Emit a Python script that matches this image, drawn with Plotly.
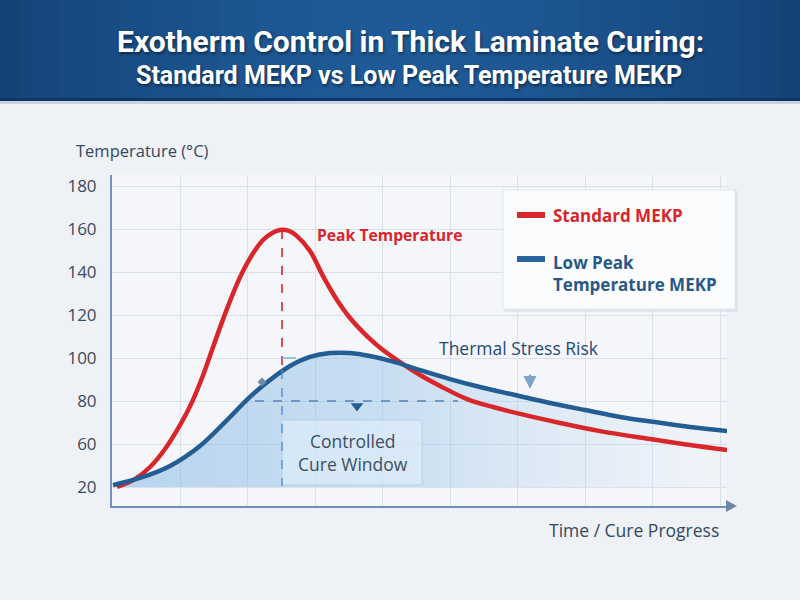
import plotly.graph_objects as go

# ---------------- data ----------------
time_std = [0.067, 0.333, 0.556, 0.778, 1.000, 1.178, 1.326, 1.474, 1.622, 1.770, 1.919, 2.067, 2.244,
            2.481, 2.615, 2.733, 2.926, 3.119, 3.326, 3.519, 3.770, 4.007, 4.259, 4.556, 4.852, 5.252,
            5.637, 6.037, 6.630, 7.222, 7.963, 8.556, 9.104]
temp_std = [40.0, 43.7, 49.3, 57.7, 68.8, 79.5, 90.7, 103.7, 116.7, 128.8, 139.5, 147.9, 155.3,
            159.5, 159.1, 156.7, 149.8, 138.1, 127.0, 118.6, 110.2, 103.7, 98.1, 92.1, 87.0, 80.9,
            77.2, 74.0, 69.8, 66.0, 62.3, 59.5, 57.2]

time_low = [0.007, 0.407, 0.852, 1.296, 1.667, 2.037, 2.333, 2.630, 2.926, 3.222, 3.519, 3.815, 4.185,
            4.556, 5.000, 5.444, 5.963, 6.481, 7.000, 7.519, 8.037, 8.556, 9.104]
temp_low = [40.9, 44.2, 49.8, 59.1, 70.2, 81.9, 89.8, 96.3, 100.5, 102.3, 102.3, 100.9, 98.1,
            94.4, 90.2, 86.5, 82.8, 79.1, 75.8, 72.6, 70.2, 67.9, 66.0]

y_tickvals = [40, 60, 80, 100, 120, 140, 160, 180]
y_ticktext = ["20", "60", "80", "100", "120", "140", "160", "180"]

series_names = ["Standard MEKP", "Low Peak<br>Temperature MEKP"]

RED = "#d8262b"
BLUE = "#235d93"
FONT = "Open Sans, Noto Sans, sans-serif"
TFONT = "Roboto, sans-serif"

# pixel helpers (plot area: x 112..727, y 175..506)
L, R, T, B = 112, 727, 175, 506
def px(xp):  # pixel -> paper x
    return (xp - L) / (R - L)
def py(yp):  # pixel -> paper y
    return (B - yp) / (B - T)
def dx(xp):  # pixel -> data x
    return (xp - 112.5) / 67.5
def dy(yp):  # pixel -> data y
    return 80 + (401 - yp) / 2.15

fig = go.Figure()

# baseline for fill
fig.add_trace(go.Scatter(x=time_low, y=[40] * len(time_low), mode="lines",
                         line=dict(width=0), showlegend=False, hoverinfo="skip"))
fig.add_trace(go.Scatter(x=time_low, y=temp_low, mode="lines", line=dict(width=0, shape="spline", smoothing=1.0),
                         fill="tonexty",
                         fillgradient=dict(type="horizontal",
                                           colorscale=[[0, "rgba(110,170,225,0.45)"],
                                                       [0.45, "rgba(120,178,228,0.35)"],
                                                       [1, "rgba(160,200,235,0.04)"]]),
                         showlegend=False, hoverinfo="skip"))

fig.add_trace(go.Scatter(x=time_std, y=temp_std, mode="lines", name=series_names[0],
                         line=dict(color=RED, width=4.5, shape="spline", smoothing=1.0),
                         showlegend=False))
fig.add_trace(go.Scatter(x=time_low, y=temp_low, mode="lines", name=series_names[1],
                         line=dict(color=BLUE, width=4.5, shape="spline", smoothing=1.0),
                         showlegend=False))

shapes = []
# title banner gradient
N = 40
for i in range(N):
    t = abs((i + 0.5) / N - 0.5) * 2
    r0, g0, b0 = 0x1f, 0x5b, 0x98
    r1, g1, b1 = 0x15, 0x42, 0x78
    k = t ** 1.5
    c = "rgb(%d,%d,%d)" % (r0 + (r1 - r0) * k, g0 + (g1 - g0) * k, b0 + (b1 - b0) * k)
    shapes.append(dict(type="rect", xref="paper", yref="paper",
                       x0=px(i * 800 / N - 1), x1=px((i + 1) * 800 / N + 1),
                       y0=py(100), y1=py(-2), fillcolor=c, line=dict(width=0), layer="above"))
shapes.append(dict(type="rect", xref="paper", yref="paper", x0=px(-1), x1=px(801),
                   y0=py(101), y1=py(98), fillcolor="#0f3566", line=dict(width=0), layer="above"))
shapes.append(dict(type="rect", xref="paper", yref="paper", x0=px(-1), x1=px(801),
                   y0=py(104), y1=py(101), fillcolor="#c9d3df", line=dict(width=0)))

# controlled cure window box
shapes.append(dict(type="rect", x0=dx(282), x1=dx(422), y0=dy(485), y1=dy(420),
                   fillcolor="rgba(220,235,247,0.75)", line=dict(color="rgba(170,200,225,0.6)", width=1)))
# dashed lines
shapes.append(dict(type="line", x0=dx(282), x1=dx(282), y0=dy(230), y1=dy(370),
                   line=dict(color=RED, width=1.6, dash="dash")))
shapes.append(dict(type="line", x0=dx(282), x1=dx(282), y0=dy(370), y1=dy(486),
                   line=dict(color="#4f8fcf", width=1.4, dash="dash")))
shapes.append(dict(type="line", x0=dx(255), x1=dx(458), y0=80, y1=80,
                   line=dict(color="#5682b3", width=1.6, dash="dash")))
shapes.append(dict(type="line", x0=dx(282), x1=dx(296), y0=100, y1=100,
                   line=dict(color="#7fb2e0", width=1.5)))
# x axis arrow head
shapes.append(dict(type="path", xref="paper", yref="paper",
                   path="M %f %f L %f %f L %f %f Z" % (px(726), py(500), px(737), py(506), px(726), py(512)),
                   fillcolor="#6f86a5", line=dict(width=0)))
# legend box
shapes.append(dict(type="rect", xref="paper", yref="paper", x0=px(504), x1=px(738), y0=py(312), y1=py(191),
                   fillcolor="rgba(205,212,222,0.45)", line=dict(width=0)))
shapes.append(dict(type="rect", xref="paper", yref="paper", x0=px(503), x1=px(735), y0=py(309), y1=py(190),
                   fillcolor="#fbfcfd", line=dict(color="#e1e6ed", width=1)))
shapes.append(dict(type="line", xref="paper", yref="paper", x0=px(517), x1=px(545), y0=py(215), y1=py(215),
                   line=dict(color=RED, width=6)))
shapes.append(dict(type="line", xref="paper", yref="paper", x0=px(517), x1=px(545), y0=py(259), y1=py(259),
                   line=dict(color="#2a64a0", width=6)))

fig.update_layout(shapes=shapes)

# markers
fig.add_trace(go.Scatter(x=[dx(357)], y=[dy(406)], mode="markers",
                         marker=dict(symbol="triangle-down", size=11, color="#1f5d96"),
                         showlegend=False, hoverinfo="skip"))
fig.add_trace(go.Scatter(x=[dx(262)], y=[dy(382)], mode="markers",
                         marker=dict(symbol="diamond", size=7, color="#6f8aa8"),
                         showlegend=False, hoverinfo="skip"))

SH = "1px 2px 3px rgba(0,0,0,0.45)"
ann = []
ann.append(dict(text="<b>Exotherm Control in Thick Laminate Curing:</b>", xref="paper", yref="paper",
                x=px(410), y=py(42), xanchor="center", yanchor="middle", showarrow=False,
                font=dict(family=TFONT, size=30, color="white", shadow=SH)))
ann.append(dict(text="<b>Standard MEKP vs Low Peak Temperature MEKP</b>", xref="paper", yref="paper",
                x=px(409), y=py(76), xanchor="center", yanchor="middle", showarrow=False,
                font=dict(family=TFONT, size=25, color="white", shadow=SH)))
ann.append(dict(text="Temperature (°C)", xref="paper", yref="paper", x=px(74), y=py(150),
                xanchor="left", yanchor="middle", showarrow=False,
                font=dict(family=FONT, size=16.5, color="#34495e")))
ann.append(dict(text="Time / Cure Progress", xref="paper", yref="paper", x=px(721), y=py(530),
                xanchor="right", yanchor="middle", showarrow=False,
                font=dict(family=FONT, size=17.5, color="#34495e")))
ann.append(dict(text="<b>Peak Temperature</b>", x=dx(315), y=dy(235), xanchor="left", yanchor="middle",
                showarrow=False, font=dict(family=FONT, size=15.7, color=RED)))
ann.append(dict(text="Thermal Stress Risk", x=dx(519), y=dy(348), xanchor="center", yanchor="middle",
                showarrow=False, font=dict(family=FONT, size=17.5, color="#1f4a75", weight=500)))
ann.append(dict(text="Controlled<br>Cure Window", x=dx(353), y=dy(452), xanchor="center", yanchor="middle",
                showarrow=False, font=dict(family=FONT, size=17.5, color="#3d4f63")))
ann.append(dict(text="", x=dx(530), y=dy(389), ax=0, ay=-16, showarrow=True, arrowhead=2,
                arrowsize=1.3, arrowwidth=2, arrowcolor="#7fa2c8"))
ann.append(dict(text="<b>Standard MEKP</b>", xref="paper", yref="paper", x=px(551), y=py(215),
                xanchor="left", yanchor="middle", showarrow=False, font=dict(family=FONT, size=17, color=RED)))
ann.append(dict(text="<b>" + series_names[1] + "</b>", xref="paper", yref="paper", x=px(551), y=py(273),
                xanchor="left", yanchor="middle", align="left", showarrow=False,
                font=dict(family=FONT, size=17, color="#2a5886")))
fig.update_layout(annotations=ann)

fig.update_layout(
    width=800, height=600,
    margin=dict(l=L, r=800 - R, t=T, b=600 - B),
    paper_bgcolor="#eef1f5",
    plot_bgcolor="#f4f6f9",
    showlegend=False,
    xaxis=dict(range=[dx(L), dx(R)], showticklabels=False, ticks="", dtick=1, tick0=0,
               showgrid=True, gridcolor="#d9e2ec", gridwidth=1, zeroline=False,
               showline=True, linecolor="#7190b4", linewidth=2, fixedrange=True),
    yaxis=dict(range=[dy(B), dy(T)], tickvals=y_tickvals, ticktext=y_ticktext,
               showgrid=True, gridcolor="#d9e2ec", gridwidth=1, zeroline=False,
               showline=True, linecolor="#7393b9", linewidth=2, ticks="",
               tickfont=dict(family=FONT, size=17, color="#3a4a5c"), ticklabelstandoff=10),
)

fig.write_html("out.html")
